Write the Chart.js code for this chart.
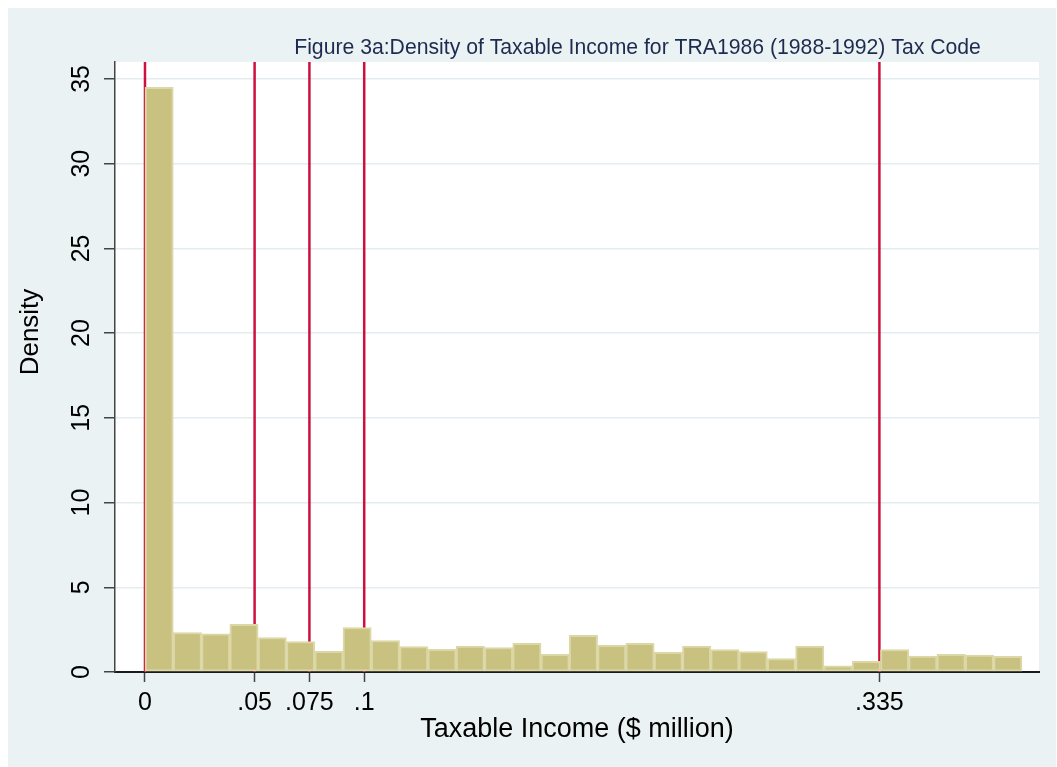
<!DOCTYPE html>
<html>
<head>
<meta charset="utf-8">
<title>Figure 3a: Density of Taxable Income</title>
<script src="https://cdn.jsdelivr.net/npm/chart.js@4.4.1/dist/chart.umd.min.js"></script>
<style>
  html, body { margin: 0; padding: 0; background: #ffffff; }
  #wrap { width: 1057px; height: 767px; position: relative; }
</style>
</head>
<body>
<div id="wrap"><canvas id="hist" width="1057" height="767"></canvas></div>
<script>
// Histogram of taxable income ($ million), 31 equal-width bins from 0 to 0.4
const binStart = 0;
const binWidth = 0.4 / 31;
const densities = [
  34.5, 2.32, 2.26, 2.81, 2.03, 1.79, 1.22, 2.62, 1.85, 1.50,
  1.34, 1.53, 1.44, 1.69, 1.04, 2.17, 1.57, 1.69, 1.16, 1.53,
  1.32, 1.20, 0.79, 1.53, 0.37, 0.63, 1.32, 0.94, 1.04, 1.00,
  0.93
];

// Tax bracket thresholds marked with vertical lines, and the x-axis ticks
const bracketCutoffs = [0, 0.05, 0.075, 0.1, 0.335];
const xTickLabels = ['0', '.05', '.075', '.1', '.335'];
const yTicks = [0, 5, 10, 15, 20, 25, 30, 35];
const yTickLabels = ['0', '5', '10', '15', '20', '25', '30', '35'];

const chartTitle = 'Figure 3a:Density of Taxable Income for TRA1986 (1988-1992) Tax Code';
const xAxisTitle = 'Taxable Income ($ million)';
const yAxisTitle = 'Density';

const points = densities.map((d, i) => ({ x: binStart + (i + 0.5) * binWidth, y: d }));

const FONT = '"Liberation Sans", Arial, sans-serif';

const backdrop = {
  id: 'backdrop',
  beforeDraw(chart) {
    const { ctx, chartArea: a } = chart;
    ctx.save();
    ctx.fillStyle = '#ffffff';
    ctx.fillRect(0, 0, chart.width, chart.height);
    ctx.fillStyle = '#eaf2f3';
    ctx.fillRect(8, 8, chart.width - 9, chart.height - 8);
    ctx.fillStyle = '#ffffff';
    ctx.fillRect(a.left, a.top, a.right - a.left, a.bottom - a.top);
    ctx.restore();
  }
};

const bracketLines = {
  id: 'bracketLines',
  beforeDatasetsDraw(chart) {
    const { ctx, chartArea: a, scales: { x } } = chart;
    ctx.save();
    ctx.strokeStyle = '#cc1141';
    ctx.lineWidth = 2.5;
    bracketCutoffs.forEach(v => {
      const px = x.getPixelForValue(v);
      ctx.beginPath();
      ctx.moveTo(px, a.top);
      ctx.lineTo(px, a.bottom);
      ctx.stroke();
    });
    ctx.restore();
  }
};

const textLayer = {
  id: 'textLayer',
  afterDraw(chart) {
    const { ctx, scales: { y } } = chart;
    ctx.save();
    // chart title
    ctx.fillStyle = '#1d2b4f';
    ctx.font = '21.2px ' + FONT;
    ctx.textAlign = 'center';
    ctx.textBaseline = 'middle';
    ctx.fillText(chartTitle, 637.5, 48);

    // rotated y tick labels
    ctx.fillStyle = '#000000';
    ctx.font = '25px ' + FONT;
    yTicks.forEach((v, i) => {
      const py = y.getPixelForValue(v);
      ctx.save();
      ctx.translate(82, py);
      ctx.rotate(-Math.PI / 2);
      ctx.fillText(yTickLabels[i], 0, 0);
      ctx.restore();
    });

    // y axis title
    ctx.font = '26px ' + FONT;
    ctx.save();
    ctx.translate(31, 332);
    ctx.rotate(-Math.PI / 2);
    ctx.fillText(yAxisTitle, 0, 0);
    ctx.restore();
    ctx.restore();
  }
};

new Chart(document.getElementById('hist'), {
  type: 'bar',
  data: {
    datasets: [{
      data: points,
      backgroundColor: '#c9c17f',
      borderColor: '#dcd7a6',
      borderWidth: 2,
      borderSkipped: false,
      barPercentage: 1.0,
      categoryPercentage: 1.0
    }]
  },
  options: {
    responsive: false,
    animation: false,
    devicePixelRatio: 1,
    layout: { padding: { left: 8, top: 62, right: 18, bottom: 0 } },
    plugins: {
      legend: { display: false },
      title: { display: false },
      tooltip: { enabled: false }
    },
    scales: {
      x: {
        type: 'linear',
        min: -0.01368,
        max: 0.4078,
        offset: false,
        afterBuildTicks(scale) {
          scale.ticks = bracketCutoffs.map(v => ({ value: v }));
        },
        afterFit(scale) { scale.height = 95; },
        ticks: {
          autoSkip: false,
          maxRotation: 0,
          minRotation: 0,
          padding: 6,
          color: '#000000',
          font: { family: FONT, size: 25 },
          callback(value) {
            const i = bracketCutoffs.indexOf(value);
            return i >= 0 ? xTickLabels[i] : '';
          }
        },
        grid: {
          display: true,
          offset: false,
          drawOnChartArea: false,
          drawTicks: true,
          tickLength: 10,
          tickColor: '#444444',
          tickWidth: 1.5
        },
        border: { display: true, color: '#1a1a1a', width: 2 },
        title: {
          display: true,
          text: xAxisTitle,
          color: '#000000',
          font: { family: FONT, size: 27 },
          padding: { top: 0, bottom: 21 }
        }
      },
      y: {
        type: 'linear',
        min: 0,
        max: 36,
        afterBuildTicks(scale) {
          scale.ticks = yTicks.map(v => ({ value: v }));
        },
        afterFit(scale) { scale.width = 107; },
        ticks: { display: false },
        grid: {
          display: true,
          color: '#e3ecef',
          lineWidth: 1.5,
          drawTicks: true,
          tickLength: 11,
          tickColor: '#444444',
          tickWidth: 1.5
        },
        border: { display: true, color: '#444444', width: 1.5 }
      }
    }
  },
  plugins: [backdrop, bracketLines, textLayer]
});
</script>
</body>
</html>
